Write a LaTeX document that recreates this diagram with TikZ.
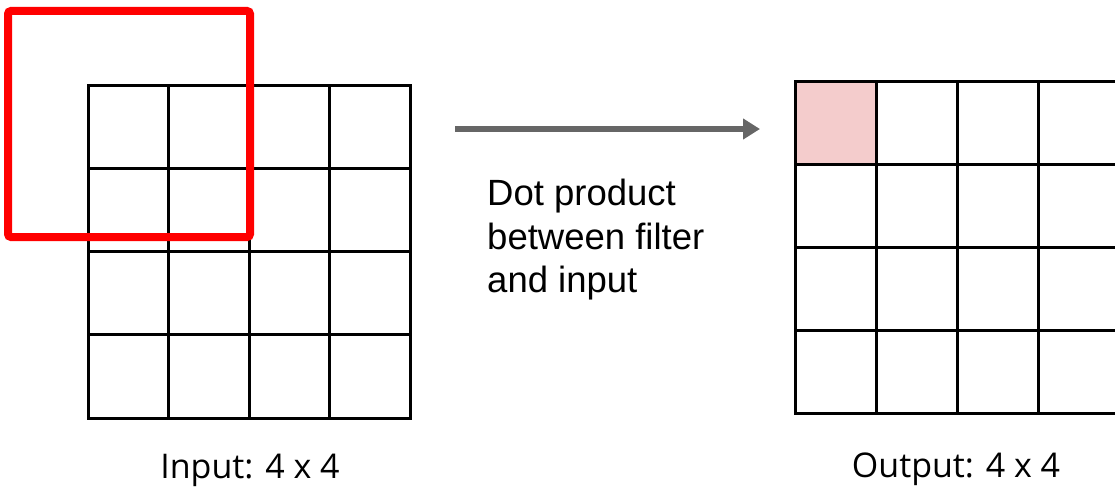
\documentclass[tikz,border=0pt]{standalone}
\usepackage{fontspec}
\setmainfont{Liberation Sans}
\newfontfamily\osans{Open Sans}
\usetikzlibrary{arrows.meta}
\definecolor{filterred}{HTML}{FF0000}
\definecolor{pinkcell}{HTML}{F4CCCC}
\definecolor{arrowgray}{HTML}{666666}
\begin{document}
\begin{tikzpicture}[x=1pt,y=-1pt,
  incell/.style={draw=black,line width=3pt,minimum width=80.5pt,minimum height=83.25pt,inner sep=0pt,outer sep=0pt},
  outcell/.style={draw=black,line width=3pt,minimum width=81pt,minimum height=83pt,inner sep=0pt,outer sep=0pt},
  filterbox/.style={draw=filterred,line width=8pt,rounded corners=3pt},
  flow/.style={draw=arrowgray,line width=6pt,-{Triangle[length=17pt,width=20pt]}},
  caption/.style={font=\osans\fontsize{34}{40}\selectfont,inner sep=0pt,anchor=base},
  note/.style={font=\fontsize{36.5}{43.5}\selectfont,align=left,inner sep=0pt,anchor=north west}]
\useasboundingbox (0,0) rectangle (1115,487);
\clip (0,0) rectangle (1115,487);
\fill[white] (0,0) rectangle (1115,487);
% input grid
\foreach \i in {0,...,3}{
  \foreach \j in {0,...,3}{
    \node[incell] (in-\i-\j) at ({88+80.5*(\j+0.5)},{85+83.25*(\i+0.5)}) {};
  }
}
% output grid
\foreach \i in {0,...,3}{
  \foreach \j in {0,...,3}{
    \node[outcell] (out-\i-\j) at ({795+81*(\j+0.5)},{81+83*(\i+0.5)}) {};
  }
}
\fill[pinkcell] ([shift={(1.5pt,-1.5pt)}]out-0-0.north west) rectangle ([shift={(-1.5pt,1.5pt)}]out-0-0.south east);
% filter
\draw[filterbox] (8,11) rectangle (250,237);
% arrow
\coordinate (a1) at (455,129);
\coordinate (a2) at (760,129);
\draw[flow] (a1) -- (a2);
% texts
\node[note] (dot) at (487,179) {Dot product\\between filter\\and input};
\node[caption] (inlab) at (250,478) {Input: 4 x 4};
\node[caption] (outlab) at (956,477) {Output: 4 x 4};
\end{tikzpicture}
\end{document}
